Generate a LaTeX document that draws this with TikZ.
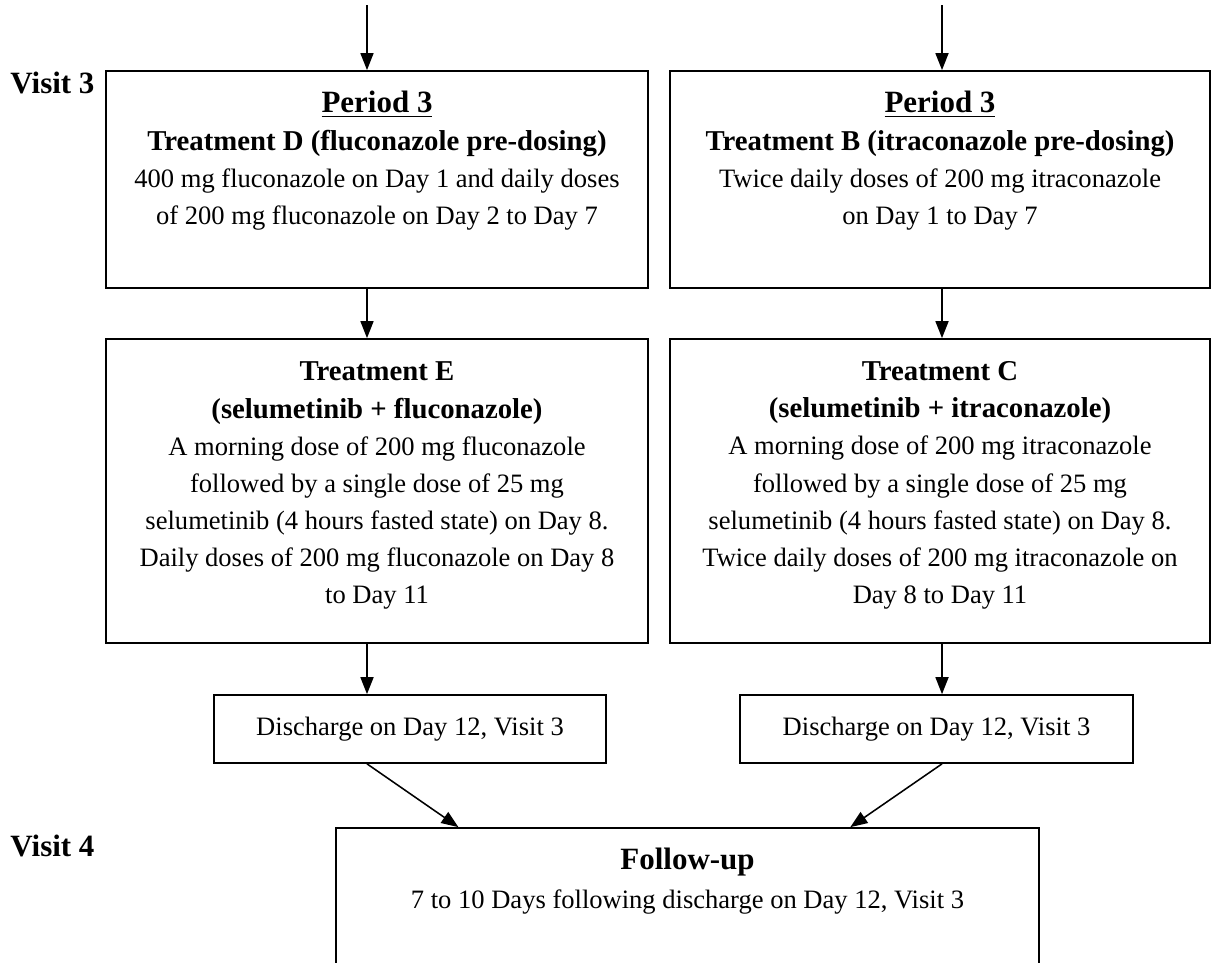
\documentclass[tikz,border=0pt]{standalone}
\usepackage{fontspec}
\setmainfont{Liberation Serif}
\usetikzlibrary{arrows.meta, positioning, calc}

\newcommand{\hdfont}{\fontsize{14}{16.8}\selectfont\bfseries}
\newcommand{\trfont}{\fontsize{13}{16.8}\selectfont\bfseries}

\begin{document}
\begin{tikzpicture}[x=0.452pt, y=-0.452pt,
    box/.style={draw, line width=0.8pt, inner sep=0pt, font=\fontsize{12}{16.8}\selectfont},
    txt/.style={align=center, inner sep=0pt, font=\fontsize{12}{16.8}\selectfont},
    visit/.style={anchor=base west, inner sep=0pt, font=\fontsize{14}{17}\selectfont\bfseries},
    arr/.style={-{Triangle[length=7.7pt, width=5.9pt]}, line width=0.7pt}]
    \useasboundingbox (0,0) rectangle (1211,962);
    \clip (0,0) rectangle (1211,962);

    % Visit labels
    \node[visit] (visit3) at (10,93) {Visit 3};
    \node[visit] (visit4) at (10,856) {Visit 4};

    % Period 3: pre-dosing
    \node[box, minimum width=245pt, minimum height=98.1pt] (boxD) at (377,179.5) {};
    \node[txt, below=9.4pt of boxD.north] (txtD) {{\hdfont\underline{Period 3}}\\
        {\trfont Treatment D (fluconazole pre-dosing)}\\
        400 mg fluconazole on Day 1 and daily doses\\
        of 200 mg fluconazole on Day 2 to Day 7};
    \node[box, minimum width=244pt, minimum height=98.1pt] (boxB) at (940,179.5) {};
    \node[txt, below=9.4pt of boxB.north] (txtB) {{\hdfont\underline{Period 3}}\\
        {\trfont Treatment B (itraconazole pre-dosing)}\\
        Twice daily doses of 200 mg itraconazole\\
        on Day 1 to Day 7};

    % Selumetinib dosing
    \node[box, minimum width=245pt, minimum height=137.4pt] (boxE) at (377,491) {};
    \node[txt, below=10.6pt of boxE.north] (txtE) {{\trfont Treatment E}\\
        {\trfont (selumetinib + fluconazole)}\\
        A morning dose of 200 mg fluconazole\\
        followed by a single dose of 25 mg\\
        selumetinib (4 hours fasted state) on Day 8.\\
        Daily doses of 200 mg fluconazole on Day 8\\
        to Day 11};
    \node[box, minimum width=244pt, minimum height=137.4pt] (boxC) at (940,491) {};
    \node[txt, below=10.4pt of boxC.north] (txtC) {{\trfont Treatment C}\\
        {\trfont (selumetinib + itraconazole)}\\
        A morning dose of 200 mg itraconazole\\
        followed by a single dose of 25 mg\\
        selumetinib (4 hours fasted state) on Day 8.\\
        Twice daily doses of 200 mg itraconazole on\\
        Day 8 to Day 11};

    % Discharge
    \node[box, minimum width=177.2pt, minimum height=30.7pt] (disE) at (410,729) {Discharge on Day 12, Visit 3};
    \node[box, minimum width=177.6pt, minimum height=30.7pt] (disC) at (936.5,729) {Discharge on Day 12, Visit 3};

    % Follow-up
    \node[box, minimum width=317.8pt, minimum height=135.6pt] (fup) at (687.5,978) {};
    \node[txt, below=9.2pt of fup.north] (txtF) {{\hdfont Follow-up}\\[1pt]
        7 to 10 Days following discharge on Day 12, Visit 3};

    % Arrows
    \coordinate (inD) at (367,5);
    \coordinate (inB) at (942,5);
    \draw[arr] (inD) -- (inD |- boxD.north);
    \draw[arr] (inB) -- (inB |- boxB.north);
    \draw[arr] (inD |- boxD.south) -- (inD |- boxE.north);
    \draw[arr] (inB |- boxB.south) -- (inB |- boxC.north);
    \draw[arr] (inD |- boxE.south) -- (inD |- disE.north);
    \draw[arr] (inB |- boxC.south) -- (inB |- disC.north);
    \draw[arr] (inD |- disE.south) -- ($(fup.north west)!0.175!(fup.north east)$);
    \draw[arr] (inB |- disC.south) -- ($(fup.north west)!0.731!(fup.north east)$);
\end{tikzpicture}
\end{document}
